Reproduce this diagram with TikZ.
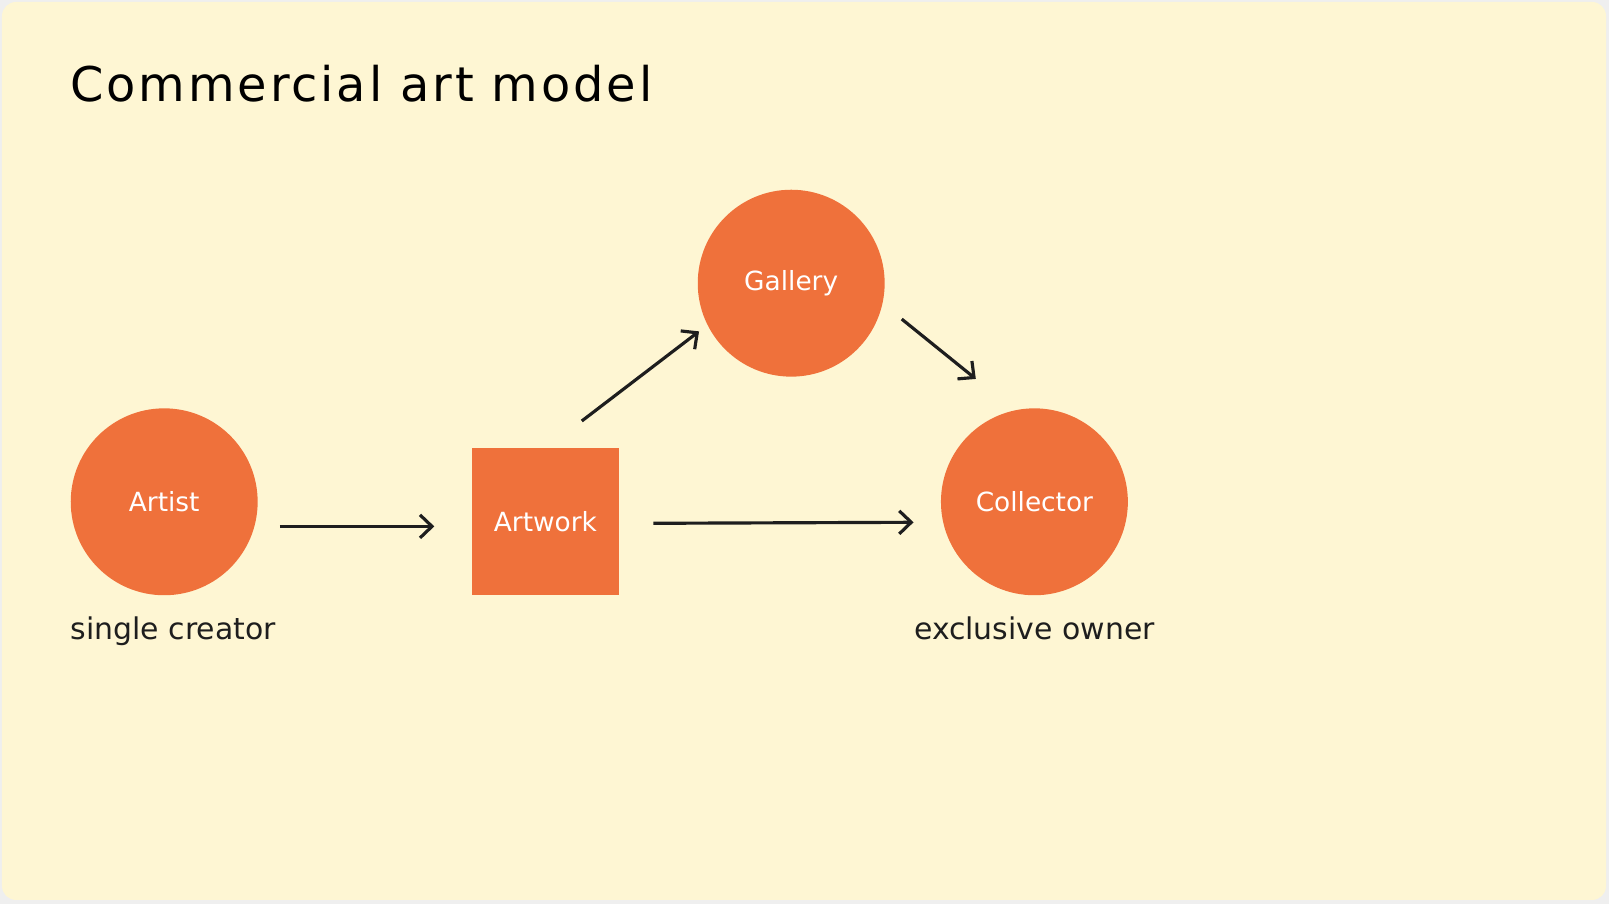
\documentclass[tikz,border=0pt]{standalone}
\usepackage{fontspec}
\setmainfont{DejaVu Sans}
\newfontfamily\titlefont[LetterSpace=6]{DejaVu Sans}
\usepackage{xcolor}
\usepackage{tikz}
\usetikzlibrary{arrows.meta, positioning, calc}
\definecolor{paper}{HTML}{FEF6D3}
\definecolor{frame}{HTML}{EFEFEF}
\definecolor{accent}{HTML}{EF713B}
\definecolor{ink}{HTML}{1E1E1E}

\begin{document}
\begin{tikzpicture}[
    x=0.01cm, y=-0.01cm,
    party/.style={circle, fill=accent, minimum size=1.868cm, inner sep=0pt, text=white, font=\fontsize{7.5}{9}\selectfont},
    work/.style={rectangle, fill=accent, minimum size=1.467cm, inner sep=0pt, text=white, font=\fontsize{7.5}{9}\selectfont},
    note/.style={text=ink, inner sep=0pt, font=\fontsize{8.5}{10}\selectfont},
    arrow/.style={-{Straight Barb[length=1.2mm, width=2.3mm]}, line width=0.9pt, draw=ink}
]

% Background
\useasboundingbox (0, 0) rectangle (1609, 904);
\fill[frame] (0, 0) rectangle (1609, 904);
\fill[paper, rounded corners=4pt] (2, 2) rectangle (1606, 900);

% Title
\node[anchor=base west, inner sep=0pt, text=black, font=\titlefont\fontsize{13.6}{17}\selectfont] (title) at (69.8, 101.6) {Commercial art model};

% Nodes
\node[party] (artist) at (164.2, 501.8) {Artist};
\node[work] (artwork) at (545.4, 521.8) {Artwork};
\node[party] (gallery) at (791.2, 283.2) {Gallery};
\node[party] (collector) at (1034.4, 501.8) {Collector};

% Notes
\node[note, anchor=base west] (creator) at (artist.west |- 0, 640) {single creator};
\node[note, anchor=base] (owner) at (collector.center |- 0, 640) {exclusive owner};

% Arrows
\draw[arrow] ($(artist.east)+(21.4, 24.6)$) -- ($(artwork.west)+(-37, 4.6)$);
\draw[arrow] ($(artwork.east)+(33.9, 1.5)$) -- ($(collector.west)+(-26.7, 20.5)$);
\draw[arrow] ($(artwork.north)+(36.4, -26.7)$) -- ($(gallery.west)+(2, 48.2)$);
\draw[arrow] ($(gallery.east)+(16.4, 35.9)$) -- ($(collector.north)+(-58.6, -28.7)$);

\end{tikzpicture}
\end{document}
